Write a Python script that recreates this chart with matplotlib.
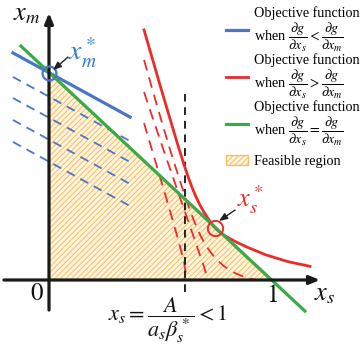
import matplotlib
matplotlib.use("Agg")
import matplotlib.pyplot as plt
from matplotlib.patches import Polygon
import numpy as np

plt.rcParams['font.family'] = ['Liberation Serif', 'DejaVu Serif']
plt.rcParams['mathtext.fontset'] = 'stix'
plt.rcParams['hatch.linewidth'] = 0.7

# ---- data ----
# green line (objective with equal partial derivatives): x_s + x_m = 1
green_x = [-0.127, 1.158]
green_y = [1.13, -0.15]

# blue objective line (solid) and its lower level lines (dashed)
blue_x = [-0.163, 0.367]
blue_y = [1.097, 0.787]
blue_dash_start = [0.981, 0.879, 0.773, 0.667]
blue_dash_end = [0.671, 0.570, 0.464, 0.357]

# red objective curve (solid)
red_x = [0.430, 0.500, 0.550, 0.585, 0.610, 0.630, 0.648, 0.665, 0.682, 0.700, 0.718,
         0.735, 0.751, 0.767, 0.785, 0.810, 0.850, 0.900, 0.980, 1.080, 1.181]
red_y = [1.208, 0.950, 0.770, 0.645, 0.560, 0.497, 0.445, 0.402, 0.364, 0.330, 0.300,
         0.274, 0.252, 0.236, 0.222, 0.205, 0.182, 0.157, 0.122, 0.089, 0.066]

# red level curves (dashed)
redC_x = [0.430, 0.470, 0.510, 0.550, 0.590, 0.625, 0.655, 0.685, 0.715, 0.750, 0.790, 0.840, 0.890, 0.932]
redC_y = [1.063, 0.912, 0.765, 0.622, 0.487, 0.375, 0.288, 0.215, 0.158, 0.108, 0.068, 0.034, 0.012, 0.0]
redB_x = [0.430, 0.470, 0.510, 0.550, 0.590, 0.630, 0.670, 0.700, 0.720]
redB_y = [0.908, 0.780, 0.654, 0.530, 0.406, 0.284, 0.160, 0.068, 0.0]
redA_x = [0.430, 0.460, 0.490, 0.520, 0.550, 0.575, 0.597, 0.612, 0.624]
redA_y = [0.758, 0.650, 0.542, 0.434, 0.324, 0.230, 0.145, 0.080, 0.0]

# feasible region vertices
region_x = [0, 0, 1]
region_y = [0, 1, 0]

# vertical bound x_s = A/(a_s beta_s*)
xs_bound = 0.615
xs_bound_y = [-0.06, 0.90]

# optimum points
xm_opt = (0.0, 1.0)
xs_opt = (0.751, 0.252)

blue = '#4a76c6'
red = '#ee2a2a'
green = '#3aaa48'

W, H = 364, 346
fig = plt.figure(figsize=(W / 100, H / 100), dpi=100)
ax = fig.add_axes([0, 0, 1, 1])
ax.set_xlim((0 - 49) / 221, (W - 49) / 221)
ax.set_ylim((280 - H) / 207, 280 / 207)
ax.axis('off')

# feasible region
poly = Polygon(list(zip(region_x, region_y)), closed=True, facecolor='#fff4e0',
               edgecolor='#f6be5c', hatch='//////', lw=1.0, zorder=1, label='Feasible region')
ax.add_patch(poly)

# axes with arrows
axc = '#1a1a1a'
ax.annotate('', xy=(1.226, 0), xytext=(-0.204, 0),
            arrowprops=dict(arrowstyle='-|>,head_length=0.6,head_width=0.25', lw=2.3, color=axc,
                            shrinkA=0, shrinkB=0), zorder=5)
ax.annotate('', xy=(0, 1.29), xytext=(0, -0.145),
            arrowprops=dict(arrowstyle='-|>,head_length=0.6,head_width=0.25', lw=2.3, color=axc,
                            shrinkA=0, shrinkB=0), zorder=5)

# blue lines
for s, e in zip(blue_dash_start, blue_dash_end):
    ax.plot(blue_x, [s, e], color=blue, lw=1.3, ls=(0, (5, 3.5)), zorder=3)
h_blue, = ax.plot(blue_x, blue_y, color=blue, lw=2.3, zorder=4,
                  label='Objective function\nwhen $\\dfrac{\\partial g}{\\partial x_s} < \\dfrac{\\partial g}{\\partial x_m}$')

# red curves
for cx, cy in [(redA_x, redA_y), (redB_x, redB_y), (redC_x, redC_y)]:
    ax.plot(cx, cy, color=red, lw=1.3, ls=(0, (6, 4)), zorder=3)
h_red, = ax.plot(red_x, red_y, color=red, lw=2.0, zorder=4, solid_joinstyle='round',
                 label='Objective function\nwhen $\\dfrac{\\partial g}{\\partial x_s} > \\dfrac{\\partial g}{\\partial x_m}$')

# green line
h_green, = ax.plot(green_x, green_y, color=green, lw=2.3, zorder=4,
                   label='Objective function\nwhen $\\dfrac{\\partial g}{\\partial x_s} = \\dfrac{\\partial g}{\\partial x_m}$')

# vertical dashed bound
ax.plot([xs_bound, xs_bound], xs_bound_y, color='#222222', lw=1.4, ls=(0, (4, 3)), zorder=3)

# optimum markers
ax.plot(*xm_opt, marker='o', ms=10, mfc='none', mec=blue, mew=1.6, zorder=6)
ax.plot(*xs_opt, marker='o', ms=11, mfc='none', mec=red, mew=1.4, zorder=6)

# annotations
ax.annotate('', xy=(0.018, 1.014), xytext=(0.086, 1.077),
            arrowprops=dict(arrowstyle='-|>,head_length=0.5,head_width=0.2', lw=1.0, color='#222222',
                            shrinkA=0, shrinkB=0), zorder=6)
ax.text(0.086, 1.058, '$x_m^*$', color='#2e7ac4', fontsize=20, ha='left', va='baseline', zorder=7)
ax.annotate('', xy=(0.769, 0.285), xytext=(0.842, 0.338),
            arrowprops=dict(arrowstyle='-|>,head_length=0.5,head_width=0.2', lw=1.0, color='#222222',
                            shrinkA=0, shrinkB=0), zorder=6)
ax.text(0.851, 0.353, '$x_s^*$', color=red, fontsize=19, ha='left', va='baseline', zorder=7)

# axis labels / ticks
ax.text(-0.100, 1.28, '$x_m$', fontsize=19, ha='center', va='center', color='#111111')
ax.text(1.199, -0.072, '$x_s$', fontsize=19, ha='left', va='center', color='#111111')
ax.text(-0.054, -0.068, '$0$', fontsize=18, ha='center', va='center', color='#111111')
ax.text(1.009, -0.077, '$1$', fontsize=18, ha='center', va='center', color='#111111')
ax.text(0.538, -0.193, '$x_s = \\dfrac{A}{a_s\\beta_s^*} < 1$', fontsize=16,
        ha='center', va='center', color='#111111')

leg_kw = dict(frameon=False, fontsize=10.2, handlelength=1.55, handletextpad=0.45,
              labelspacing=0.0, borderaxespad=0.0, borderpad=0.1)
leg = ax.legend(handles=[h_blue, h_red, h_green], loc='upper left',
                bbox_to_anchor=(232 / W - 0.02, 0.985), **leg_kw)
for t in leg.get_texts():
    t.set_linespacing(1.0)
ax.add_artist(leg)
leg2 = ax.legend(handles=[poly], loc='center left',
                 bbox_to_anchor=(232 / W - 0.02, 1 - 161 / H), **leg_kw)

fig.savefig('out.png', dpi=100)
